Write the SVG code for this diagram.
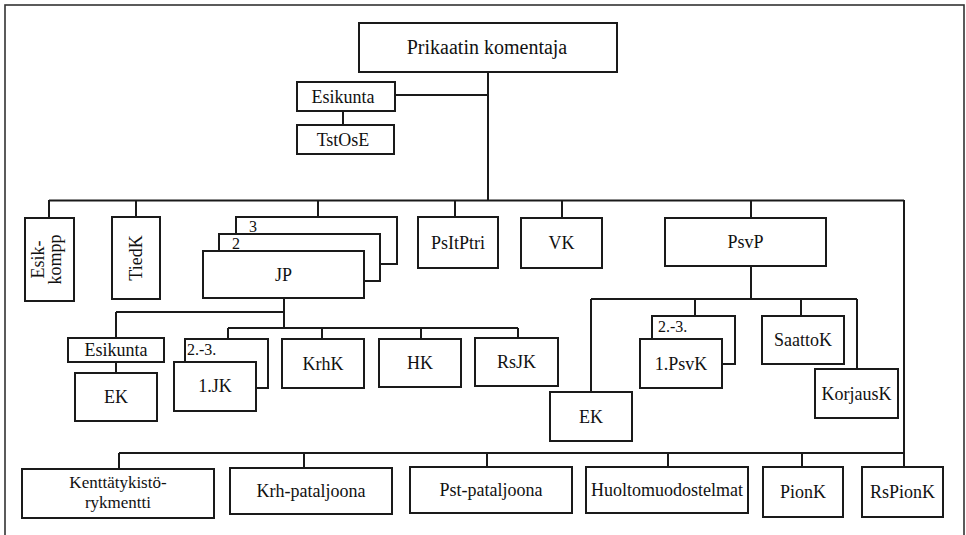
<svg xmlns="http://www.w3.org/2000/svg" width="966" height="535" viewBox="0 0 966 535">
<style>
.frame{fill:none;stroke:#333;stroke-width:1.6}
.box{fill:#fff;stroke:#1a1a1a;stroke-width:2}
.con{fill:none;stroke:#1a1a1a;stroke-width:2}
text{font-family:'Liberation Serif','DejaVu Serif','Noto Serif',serif;font-size:18px;fill:#111;text-anchor:middle}
.t20{font-size:20px}
.num{font-size:16px;text-anchor:start}
.sm{font-size:17px}
</style>
<rect width="966" height="535" fill="#fff"/>
<rect class="frame" x="5" y="5" width="959" height="545"/>
<g id="connectors">
<path class="con" d="M488 72V200M395 95H488M343 111V125M49 200.5H904M49 200V218M136 200V217M318 200V217M455 200V217M562 200V218M751 200V218M904 200V467M119 453H904M119 453V469M304 453V468M487 453V467M668 453V467M802 453V467"/>
<path class="con" d="M284 298V328M116 312H284M116 312V338M228 328H518M228 328V339M322 328V339M421 328V339M518 328V338M116 362V373"/>
<path class="con" d="M751 266V299M591 299H857M591 299V392M695 299V316M801 299V316M857 299V369"/>
</g>
<g id="prikaatin"><rect class="box" x="359" y="23" width="258" height="49"/><text class="t20" x="487" y="54">Prikaatin komentaja</text></g>
<g id="esikunta"><rect class="box" x="297" y="82" width="98" height="29"/><text x="343" y="103">Esikunta</text></g>
<g id="tstose"><rect class="box" x="297" y="125" width="97" height="29"/><text x="343" y="146">TstOsE</text></g>
<g id="esikkompp"><rect class="box" x="25" y="218" width="49" height="83"/><text transform="translate(44 259.5) rotate(-90)">Esik-</text><text transform="translate(61 259.5) rotate(-90)">kompp</text></g>
<g id="tiedk"><rect class="box" x="112" y="217" width="48" height="82"/><text transform="translate(142 258) rotate(-90)">TiedK</text></g>
<g id="jp">
<rect class="box" x="236" y="217" width="161" height="47"/><text class="num" x="249" y="232">3</text>
<rect class="box" x="219" y="234" width="161" height="47"/><text class="num" x="232" y="249">2</text>
<rect class="box" x="203" y="251" width="161" height="47"/><text x="283.5" y="281">JP</text>
</g>
<g id="psitptri"><rect class="box" x="418" y="217" width="80" height="51"/><text x="458" y="249">PsItPtri</text></g>
<g id="vk"><rect class="box" x="521" y="218" width="81" height="50"/><text x="561.5" y="249">VK</text></g>
<g id="psvp"><rect class="box" x="665" y="218" width="161" height="48"/><text x="745.5" y="248">PsvP</text></g>
<g id="esikunta2"><rect class="box" x="68" y="338" width="96" height="24"/><text x="116" y="356">Esikunta</text></g>
<g id="ek1"><rect class="box" x="75" y="373" width="82" height="48"/><text x="116" y="403">EK</text></g>
<g id="jk">
<rect class="box" x="185" y="339" width="83" height="49"/><text class="num" x="187" y="355">2.-3.</text>
<rect class="box" x="174" y="362" width="82" height="49"/><text x="215" y="392">1.JK</text>
</g>
<g id="krhk"><rect class="box" x="282" y="339" width="82" height="49"/><text x="323" y="369.5">KrhK</text></g>
<g id="hk"><rect class="box" x="379" y="339" width="82" height="48"/><text x="420" y="369">HK</text></g>
<g id="rsjk"><rect class="box" x="475" y="338" width="83" height="48"/><text x="516.5" y="368">RsJK</text></g>
<g id="ek2"><rect class="box" x="550" y="392" width="82" height="49"/><text x="591" y="422.5">EK</text></g>
<g id="psvk">
<rect class="box" x="652" y="316" width="83" height="48"/><text class="num" x="658" y="332">2.-3.</text>
<rect class="box" x="640" y="339" width="82" height="49"/><text x="681" y="369.5">1.PsvK</text>
</g>
<g id="saattok"><rect class="box" x="762" y="316" width="82" height="48"/><text x="803" y="346">SaattoK</text></g>
<g id="korjausk"><rect class="box" x="815" y="369" width="83" height="49"/><text x="856.5" y="399.5">KorjausK</text></g>
<g id="kenttatykisto"><rect class="box" x="22" y="469" width="192" height="49"/><text class="sm" x="118" y="488">Kenttätykistö-</text><text class="sm" x="118" y="508">rykmentti</text></g>
<g id="krhpataljoona"><rect class="box" x="230" y="468" width="162" height="46"/><text x="311" y="497">Krh-pataljoona</text></g>
<g id="pstpataljoona"><rect class="box" x="410" y="467" width="162" height="46"/><text x="491" y="496">Pst-pataljoona</text></g>
<g id="huolto"><rect class="box" x="586" y="467" width="162" height="46"/><text x="667" y="496">Huoltomuodostelmat</text></g>
<g id="pionk"><rect class="box" x="763" y="467" width="80" height="50"/><text x="803" y="498">PionK</text></g>
<g id="rspionk"><rect class="box" x="862" y="467" width="81" height="50"/><text x="902.5" y="498">RsPionK</text></g>
</svg>
